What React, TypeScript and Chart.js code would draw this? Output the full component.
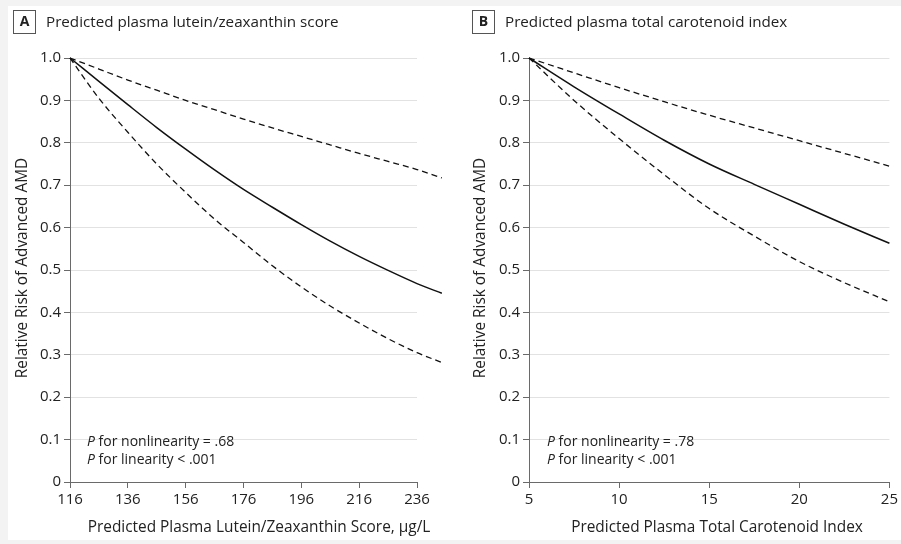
import React, { useEffect, useRef } from "react";
import { Chart, registerables } from "chart.js";
Chart.register(...registerables);

// Panel A: predicted plasma lutein/zeaxanthin score
const A_X = [116, 126, 136, 146, 156, 166, 176, 186, 196, 206, 216, 226, 236, 244.6];
const A_EST = [1.0, 0.945, 0.89, 0.836, 0.785, 0.736, 0.69, 0.648, 0.607, 0.568, 0.532, 0.499, 0.468, 0.445];
const A_UP = [1.0, 0.974, 0.948, 0.924, 0.9, 0.878, 0.856, 0.835, 0.815, 0.795, 0.775, 0.756, 0.737, 0.717];
const A_LO = [1.0, 0.905, 0.825, 0.75, 0.683, 0.62, 0.565, 0.51, 0.46, 0.415, 0.375, 0.338, 0.305, 0.282];
const A_TICKS = [116, 136, 156, 176, 196, 216, 236];

// Panel B: predicted plasma total carotenoid index
const B_X = [5, 7.5, 10, 12.5, 15, 17.5, 20, 22.5, 25];
const B_EST = [1.0, 0.932, 0.868, 0.806, 0.75, 0.702, 0.655, 0.608, 0.563];
const B_UP = [1.0, 0.965, 0.93, 0.897, 0.865, 0.835, 0.805, 0.775, 0.745];
const B_LO = [1.0, 0.9, 0.81, 0.725, 0.645, 0.58, 0.52, 0.47, 0.425];
const B_TICKS = [5, 10, 15, 20, 25];

const Y_TICKS = [0, 0.1, 0.2, 0.3, 0.4, 0.5, 0.6, 0.7, 0.8, 0.9, 1.0];

const FONT = "'Open Sans', 'Noto Sans', sans-serif";
const TEXT = "#222";
const AXIS = "#6a6a6a";
const GRID = "#e2e2e2";

type PanelCfg = {
  letter: string;
  title: string;
  xTitle: string;
  yTitleX: number;
  xTitleX: number;
  boxX: number;
  titleX: number;
  annX: number;
  nonlin: string;
  lin: string;
  xs: number[];
  est: number[];
  up: number[];
  lo: number[];
  ticks: number[];
  width: number;
  padLeft: number;
  padRight: number;
};

function toPts(xs: number[], ys: number[]) {
  return xs.map((x, i) => ({ x, y: ys[i] }));
}

function Panel({ cfg, left }: { cfg: PanelCfg; left: number }) {
  const ref = useRef<HTMLCanvasElement>(null);
  useEffect(() => {
    const canvas = ref.current!;
    const overlay = {
      id: "overlay",
      afterDraw(chart: any) {
        const ctx = chart.ctx as CanvasRenderingContext2D;
        const ca = chart.chartArea;
        ctx.save();
        // panel letter box
        ctx.strokeStyle = "#555";
        ctx.lineWidth = 1;
        ctx.strokeRect(cfg.boxX + 0.5, 4.5, 22, 23);
        ctx.fillStyle = TEXT;
        ctx.font = `bold 14px ${FONT}`;
        ctx.textAlign = "center";
        ctx.textBaseline = "middle";
        ctx.fillText(cfg.letter, cfg.boxX + 11.5, 16.5);
        // title
        ctx.font = `15.2px ${FONT}`;
        ctx.textAlign = "left";
        ctx.fillText(cfg.title, cfg.titleX, 16.5);
        // y axis title
        ctx.save();
        ctx.translate(cfg.yTitleX, (ca.top + ca.bottom) / 2 - 2);
        ctx.rotate(-Math.PI / 2);
        ctx.textAlign = "center";
        ctx.textBaseline = "middle";
        ctx.font = `15.4px ${FONT}`;
        ctx.fillText("Relative Risk of Advanced AMD", 0, 0);
        ctx.restore();
        // x axis title
        ctx.textAlign = "center";
        ctx.font = `15.4px ${FONT}`;
        ctx.fillText(cfg.xTitle, cfg.xTitleX, 522);
        // annotations
        ctx.textAlign = "left";
        const drawP = (rest: string, y: number) => {
          ctx.font = `italic 14px ${FONT}`;
          ctx.fillText("P", cfg.annX, y);
          const w = ctx.measureText("P").width;
          ctx.font = `14px ${FONT}`;
          ctx.fillText(rest, cfg.annX + w, y);
        };
        drawP(cfg.nonlin, 436);
        drawP(cfg.lin, 454);
        ctx.restore();
      },
    };
    const lineDs = (data: number[], dashed: boolean, label: string) => ({
      label,
      data: toPts(cfg.xs, data),
      borderColor: "#111",
      borderWidth: dashed ? 1.3 : 1.5,
      borderDash: dashed ? [6, 4] : [],
      pointRadius: 0,
      cubicInterpolationMode: "monotone" as const,
      fill: false,
      clip: false as any,
    });
    const xMin = cfg.ticks[0];
    const xMax = cfg.ticks[cfg.ticks.length - 1];
    const chart = new Chart(canvas, {
      type: "line",
      data: {
        datasets: [
          lineDs(cfg.up, true, "Upper 95% CI"),
          lineDs(cfg.est, false, "Relative risk"),
          lineDs(cfg.lo, true, "Lower 95% CI"),
        ],
      },
      plugins: [overlay],
      options: {
        animation: false,
        responsive: false,
        devicePixelRatio: 1,
        layout: { padding: { left: 0, right: cfg.padRight, top: 52, bottom: 0 } },
        plugins: { legend: { display: false }, tooltip: { enabled: false } },
        scales: {
          x: {
            type: "linear",
            bounds: "data",
            afterDataLimits: (s: any) => {
              s.min = xMin;
              s.max = xMax;
            },
            afterBuildTicks: (s: any) => {
              s.ticks = cfg.ticks.map((v) => ({ value: v }));
            },
            afterFit: (s: any) => {
              s.height = 58;
            },
            grid: {
              color: "rgba(0,0,0,0)",
              tickColor: AXIS,
              tickLength: 6,
              drawOnChartArea: false,
            },
            border: { color: AXIS, width: 1 },
            ticks: {
              color: TEXT,
              font: { family: FONT, size: 15 },
              padding: 3,
              maxRotation: 0,
              autoSkip: false,
            },
          },
          y: {
            type: "linear",
            min: 0,
            max: 1,
            afterBuildTicks: (s: any) => {
              s.ticks = Y_TICKS.map((v) => ({ value: v }));
            },
            afterFit: (s: any) => {
              s.width = cfg.padLeft;
            },
            grid: {
              color: (c: any) => (c.tick && c.tick.value === 0 ? "rgba(0,0,0,0)" : GRID),
              tickColor: AXIS,
              tickLength: 6,
              lineWidth: 1,
            },
            border: { color: AXIS, width: 1 },
            ticks: {
              color: TEXT,
              font: { family: FONT, size: 15 },
              padding: 3,
              callback: (v: any) => (Number(v) === 0 ? "0" : Number(v).toFixed(1)),
            },
          },
        },
      },
    });
    return () => chart.destroy();
  }, [cfg]);
  return (
    <canvas
      ref={ref}
      width={cfg.width}
      height={534}
      style={{ position: "absolute", left, top: 6, width: cfg.width, height: 534 }}
    />
  );
}

const PANEL_A: PanelCfg = {
  letter: "A",
  title: "Predicted plasma lutein/zeaxanthin score",
  xTitle: "Predicted Plasma Lutein/Zeaxanthin Score, \u03bcg/L",
  yTitleX: 15,
  xTitleX: 251,
  boxX: 5,
  titleX: 38,
  annX: 79,
  nonlin: " for nonlinearity = .68",
  lin: " for linearity < .001",
  xs: A_X,
  est: A_EST,
  up: A_UP,
  lo: A_LO,
  ticks: A_TICKS,
  width: 442,
  padLeft: 62,
  padRight: 33,
};

const PANEL_B: PanelCfg = {
  letter: "B",
  title: "Predicted plasma total carotenoid index",
  xTitle: "Predicted Plasma Total Carotenoid Index",
  yTitleX: 31,
  xTitleX: 267,
  boxX: 22,
  titleX: 55,
  annX: 97,
  nonlin: " for nonlinearity = .78",
  lin: " for linearity < .001",
  xs: B_X,
  est: B_EST,
  up: B_UP,
  lo: B_LO,
  ticks: B_TICKS,
  width: 451,
  padLeft: 79,
  padRight: 9,
};

export default function App() {
  return (
    <div
      style={{
        position: "fixed",
        left: 0,
        top: 0,
        width: 901,
        height: 544,
        background: "#f3f3f3",
        overflow: "hidden",
      }}
    >
      <div
        style={{
          position: "absolute",
          left: 8,
          top: 6,
          width: 893,
          height: 534,
          background: "#fff",
        }}
      />
      <Panel cfg={PANEL_A} left={8} />
      <Panel cfg={PANEL_B} left={450} />
    </div>
  );
}
